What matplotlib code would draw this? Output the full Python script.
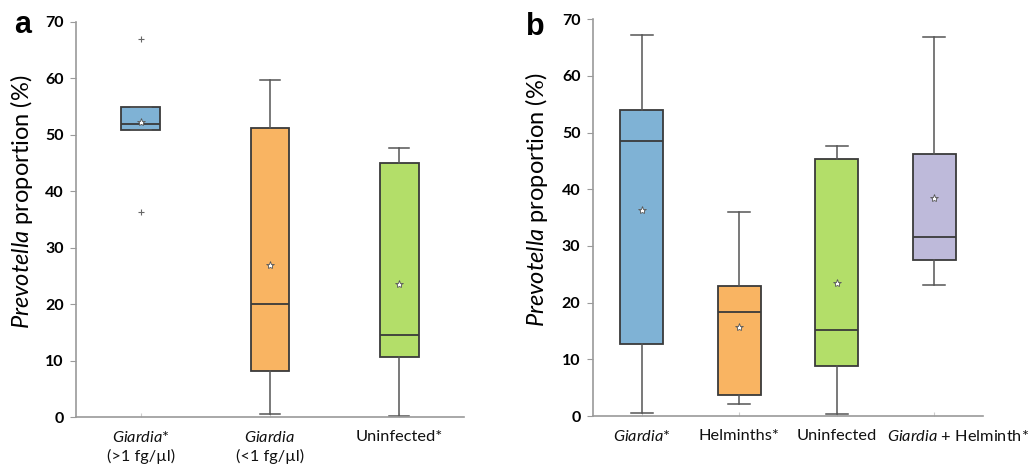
import matplotlib
matplotlib.use("Agg")
import matplotlib.pyplot as plt
from matplotlib.transforms import ScaledTranslation

plt.rcParams['font.family'] = ['Lato', 'DejaVu Sans']
plt.rcParams['mathtext.fontset'] = 'custom'
plt.rcParams['mathtext.it'] = 'Lato:italic'
plt.rcParams['mathtext.rm'] = 'Lato'
plt.rcParams['mathtext.bf'] = 'Lato:bold'

# panel a data
a_labels = ['$\\mathit{Giardia}$*\n(>1 fg/µl)', '$\\mathit{Giardia}$\n(<1 fg/µl)', 'Uninfected*']
a_whislo = [50.9, 0.5, 0.25]
a_q1 = [50.9, 8.2, 10.6]
a_med = [51.9, 20.0, 14.5]
a_q3 = [54.9, 51.2, 45.0]
a_whishi = [54.9, 59.7, 47.6]
a_mean = [52.3, 27.0, 23.6]
a_fliers = [[67.0, 36.3], [], []]

# panel b data
b_labels = ['$\\mathit{Giardia}$*', 'Helminths*', 'Uninfected', '$\\mathit{Giardia}$ + Helminth*']
b_whislo = [0.6, 2.2, 0.3, 23.2]
b_q1 = [12.8, 3.8, 8.9, 27.6]
b_med = [48.6, 18.3, 15.2, 31.5]
b_q3 = [53.9, 22.9, 45.4, 46.2]
b_whishi = [67.2, 36.0, 47.7, 66.9]
b_mean = [36.4, 15.7, 23.5, 38.5]
b_fliers = [[], [], [], []]

colors = ['#7FB2D5', '#F9B462', '#B3DE69', '#BEBADA']

fig = plt.figure(figsize=(10.33, 4.67), dpi=100)
ax_a = fig.add_axes([0.0736, 0.107, 0.3754, 0.846])
ax_b = fig.add_axes([0.574, 0.109, 0.3776, 0.850])


def draw_panel(ax, labels, whislo, q1, med, q3, whishi, mean, fliers, width, label_x):
    stats = []
    for i in range(len(labels)):
        stats.append(dict(whislo=whislo[i], q1=q1[i], med=med[i], q3=q3[i],
                          whishi=whishi[i], mean=mean[i], fliers=fliers[i]))
    pos = list(range(1, len(labels) + 1))
    bp = ax.bxp(stats, positions=pos, widths=width, patch_artist=True,
                showmeans=True, showfliers=True,
                boxprops=dict(edgecolor='#3a3a3a', linewidth=1.3),
                medianprops=dict(color='#3a3a3a', linewidth=1.3),
                whiskerprops=dict(color='#555555', linewidth=1.1),
                capprops=dict(color='#555555', linewidth=1.1),
                capwidths=width * 0.52,
                meanprops=dict(marker='*', markerfacecolor='white',
                               markeredgecolor='#555555', markersize=6,
                               markeredgewidth=0.6),
                flierprops=dict(marker='+', markeredgecolor='#666666',
                                markersize=5, markeredgewidth=0.8))
    for patch, c in zip(bp['boxes'], colors):
        patch.set_facecolor(c)
    ax.set_xlim(0.5, len(labels) + 0.5)
    ax.set_ylim(0, 70)
    ax.set_yticks(range(0, 71, 10))
    ax.set_xticks(pos)
    ax.set_xticklabels(labels, fontsize=11.8, linespacing=1.35, color='#111111')
    for t in ax.get_yticklabels():
        t.set_fontweight('bold')
        t.set_fontsize(11.5)
    ax.spines['top'].set_visible(False)
    ax.spines['right'].set_visible(False)
    ax.spines['left'].set_color('#9a9a9a')
    ax.spines['bottom'].set_color('#9a9a9a')
    ax.spines['left'].set_linewidth(1.2)
    ax.spines['bottom'].set_linewidth(1.2)
    ax.tick_params(axis='y', direction='out', length=4, color='#9a9a9a', pad=5)
    ax.tick_params(axis='x', direction='in', length=3, color='#cccccc', pad=9)
    ax.set_ylabel('$\\mathit{Prevotella}$ proportion (%)', fontsize=17)
    ax.yaxis.set_label_coords(label_x, 0.545)


draw_panel(ax_a, a_labels, a_whislo, a_q1, a_med, a_q3, a_whishi, a_mean, a_fliers, 0.3, -0.105)
draw_panel(ax_b, b_labels, b_whislo, b_q1, b_med, b_q3, b_whishi, b_mean, b_fliers, 0.44, -0.11)

# last label in panel b sits right of its tick in the original
last = ax_b.get_xticklabels()[-1]
last.set_transform(last.get_transform() + ScaledTranslation(0.24, 0, fig.dpi_scale_trans))

fig.text(0.014, 0.93, 'a', fontsize=22, fontweight='bold', family='Liberation Sans')
fig.text(0.509, 0.925, 'b', fontsize=22, fontweight='bold', family='Liberation Sans')

fig.savefig('out.png', dpi=100)
